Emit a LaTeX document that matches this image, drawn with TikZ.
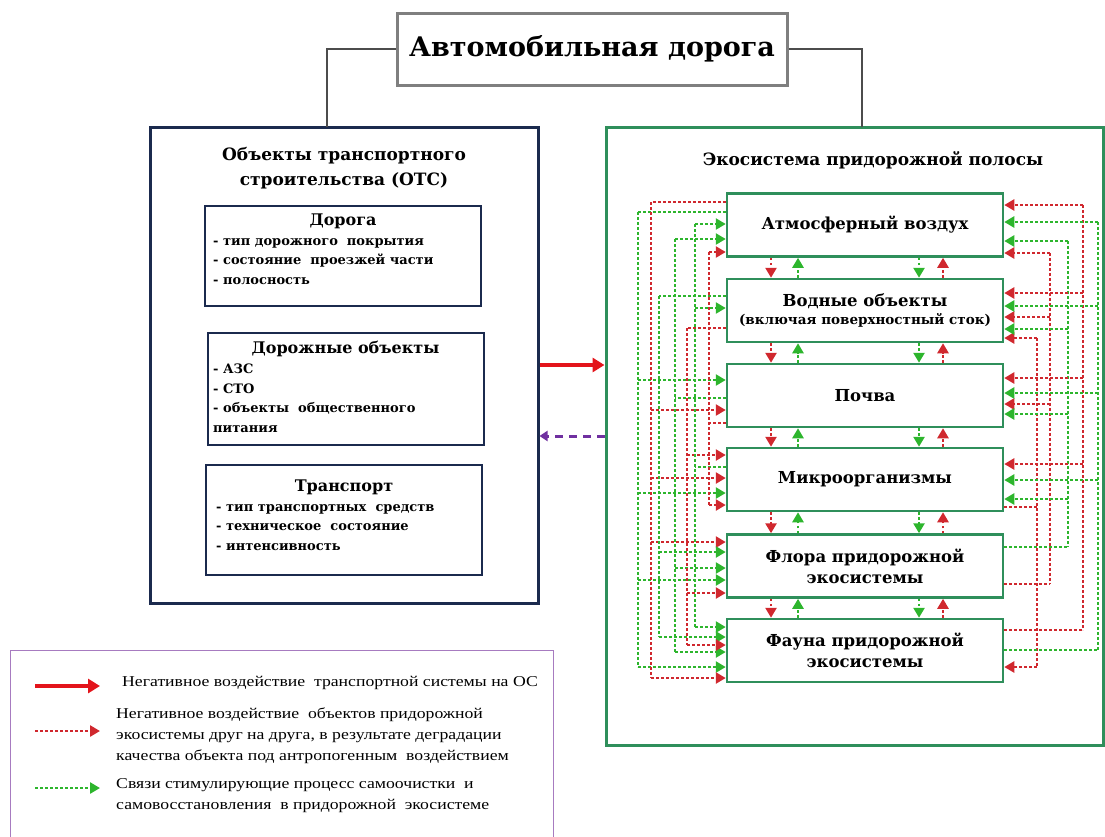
\documentclass[tikz,border=0pt]{standalone}
\usepackage{fontspec}
\setmainfont{DejaVu Serif}
\newfontfamily\legendfont[FakeStretch=1.18]{Liberation Serif}
\usetikzlibrary{arrows.meta}

\definecolor{otsblue}{HTML}{1B2A4E}
\definecolor{ecogreen}{HTML}{2F8F5B}
\definecolor{titlegray}{HTML}{7F7F7F}
\definecolor{impactred}{HTML}{E3141B}
\definecolor{reddot}{HTML}{D0282E}
\definecolor{greendot}{HTML}{2DB52D}
\definecolor{backviolet}{HTML}{7030A0}
\definecolor{legendframe}{HTML}{A77BC0}

\tikzset{
  titlebox/.style={draw=titlegray, line width=3pt, inner sep=0pt},
  otsbox/.style={draw=otsblue, line width=3pt, inner sep=0pt},
  subbox/.style={draw=otsblue, line width=2pt, inner sep=0pt, minimum width=276pt},
  subhead/.style={font=\fontsize{16}{19}\selectfont\bfseries},
  subitems/.style={anchor=north west, align=left, inner sep=0pt, font=\fontsize{13}{19.5}\selectfont\bfseries},
  ecoframe/.style={draw=ecogreen, line width=3pt, inner sep=0pt},
  ecobox/.style={draw=ecogreen, line width=2.5pt, inner sep=0pt, minimum width=276pt,
    minimum height=63pt, align=center, font=\fontsize{16.5}{21}\selectfont\bfseries},
  link/.style={draw=black!70, line width=1.5pt},
  dotline/.style={line width=2.8pt, dash pattern=on 2.6pt off 2.4pt},
  head/.style={-{Triangle[length=10pt,width=11pt]}},
  impact/.style={draw=impactred, line width=4pt, -{Triangle[length=12pt,width=14pt]}},
  feedback/.style={draw=backviolet, line width=3pt, dash pattern=on 8pt off 6pt, -{Triangle[length=8pt,width=10pt]}},
  legendtext/.style={anchor=north west, align=left, inner sep=0pt, font=\legendfont\fontsize{15}{21}\selectfont}
}

\begin{document}
\begin{tikzpicture}[x=1pt, y=-1pt]
  \useasboundingbox (0,0) rectangle (1105,836);

  % top
  \node[titlebox, minimum width=390pt, minimum height=72pt, font=\fontsize{27}{30}\selectfont\bfseries]
    (road) at (592,49) {Автомобильная дорога};

  % left part
  \node[otsbox, minimum width=388pt, minimum height=476pt] (ots) at (344,365) {};
  \node[align=center, font=\fontsize{17}{25}\selectfont\bfseries] (otsT) at (344,168)
    {Объекты транспортного\\строительства (ОТС)};

  \node[subbox, minimum height=100pt] (doroga) at (343,256) {};
  \node[subhead] (dorogaT) at (343,221) {Дорога};
  \node[subitems] (dorogaL) at (213,238)
    {- тип дорожного~ покрытия\\- состояние~ проезжей части\\- полосность};

  \node[subbox, minimum height=112pt] (dobj) at (345.5,389) {};
  \node[subhead] (dobjT) at (345.5,349) {Дорожные объекты};
  \node[subitems] (dobjL) at (213,364)
    {- АЗС\\- СТО\\- объекты~ общественного\\питания};

  \node[subbox, minimum height=110pt] (transp) at (344,520) {};
  \node[subhead] (transpT) at (344,487) {Транспорт};
  \node[subitems] (transpL) at (216,504)
    {- тип транспортных~ средств\\- техническое~ состояние\\- интенсивность};

  % right part
  \node[ecoframe, minimum width=497pt, minimum height=618pt] (eco) at (854.5,436) {};
  \node[font=\fontsize{17}{20}\selectfont\bfseries] (ecoT) at (873,160) {Экосистема придорожной полосы};

  \node[ecobox] (atm) at (865,225) {Атмосферный воздух};
  \node[ecobox] (water) at (865,310.5)
    {Водные объекты\\[-3pt]{\fontsize{13.5}{16}\selectfont(включая поверхностный сток)}};
  \node[ecobox] (soil) at (865,395.5) {Почва};
  \node[ecobox] (micro) at (865,479.5) {Микроорганизмы};
  \node[ecobox] (flora) at (865,566) {Флора придорожной\\экосистемы};
  \node[ecobox] (fauna) at (865,650.5) {Фауна придорожной\\экосистемы};

  \coordinate (otsTop) at (327,127);
  \coordinate (ecoTop) at (862,127);
  \draw[link] (road.west) -| (otsTop);
  \draw[link] (road.east) -| (ecoTop);

  \draw[impact] (ots.east) -- (ots.east -| eco.west);
  \draw[feedback] (eco.west) -- (eco.west -| ots.east);

  % links between neighbours
  \foreach \ua/\lb in {atm/water, water/soil, soil/micro, micro/flora, flora/fauna}{
    \draw[dotline, draw=reddot, head] (\ua.south -| 771,0) -- (\lb.north -| 771,0);
    \draw[dotline, draw=greendot, head] (\lb.north -| 798,0) -- (\ua.south -| 798,0);
    \draw[dotline, draw=greendot, head] (\ua.south -| 919,0) -- (\lb.north -| 919,0);
    \draw[dotline, draw=reddot, head] (\lb.north -| 943,0) -- (\ua.south -| 943,0);
  }

  % buses: colour / x / top / bottom / source / source y / side / targets
  \foreach \cc/\cx/\ya/\yb/\sb/\sy/\sd/\dst in {
    greendot/638/212/667/atm/212/west/{soil/380,micro/493,flora/580,fauna/667},
    reddot/651/202/678/atm/202/west/{soil/410,micro/478,flora/542,fauna/678},
    greendot/659/296/637/water/296/west/{flora/552,fauna/637},
    greendot/675/239/652/soil/398/west/{atm/239,flora/568,fauna/652},
    reddot/687/328/645/water/328/west/{micro/455,flora/593,fauna/645},
    greendot/695/224/627/micro/467/west/{atm/224,water/308,fauna/627},
    reddot/709/252/505/soil/423/west/{atm/252,micro/505},
    reddot/1037/338/667/micro/507/east/{water/338,fauna/667},
    reddot/1050/253/584/flora/584/east/{atm/253,water/317,soil/404},
    greendot/1068/241/547/flora/547/east/{atm/241,water/329,soil/414,micro/499},
    reddot/1083/205/630/fauna/630/east/{atm/205,water/293,soil/378,micro/464},
    greendot/1098/222/650/fauna/650/east/{atm/222,water/306,soil/393,micro/480}}{
    \draw[dotline, draw=\cc] (\cx,\ya) -- (\cx,\yb);
    \draw[dotline, draw=\cc] (\sb.\sd |- 0,\sy) -- (\cx,\sy);
    \foreach \bx/\yy in \dst
      \draw[dotline, draw=\cc, head] (\cx,\yy) -- (\bx.\sd |- 0,\yy);
  }

  % legend
  \node[draw=legendframe, line width=1pt, minimum width=543pt, minimum height=200pt,
    anchor=north west] (legend) at (10,650) {};
  \coordinate (l1a) at (35,686);  \coordinate (l1b) at (100,686);
  \coordinate (l2a) at (35,731);  \coordinate (l2b) at (100,731);
  \coordinate (l3a) at (35,788);  \coordinate (l3b) at (100,788);
  \draw[impact, line width=3.5pt] (l1a) -- (l1b);
  \draw[dotline, draw=reddot, head] (l2a) -- (l2b);
  \draw[dotline, draw=greendot, head] (l3a) -- (l3b);
  \node[legendtext] (leg1) at (122,676) {Негативное воздействие~ транспортной системы на ОС};
  \node[legendtext] (leg2) at (116,708)
    {Негативное воздействие~ объектов придорожной\\экосистемы друг на друга, в результате деградации\\качества объекта под антропогенным~ воздействием};
  \node[legendtext] (leg3) at (116,778)
    {Связи стимулирующие процесс самоочистки~ и\\самовосстановления~ в придорожной~ экосистеме};
\end{tikzpicture}
\end{document}
